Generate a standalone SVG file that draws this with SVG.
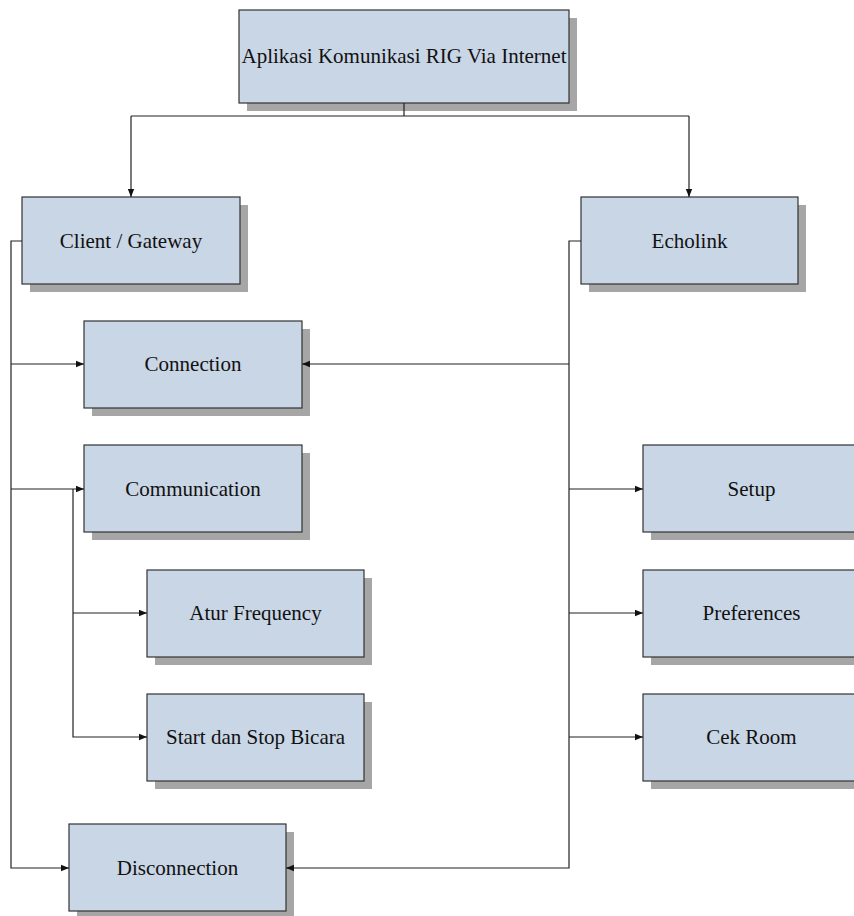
<svg xmlns="http://www.w3.org/2000/svg" width="854" height="916" viewBox="0 0 854 916">
<defs>
<style>
.box{fill:#c9d6e6;stroke:#333;stroke-width:1.2}
.sh{fill:#a6a6a6}
.t{font-family:"Liberation Serif","Times New Roman",serif;font-size:21px;fill:#111;text-anchor:middle}
.c{fill:none;stroke:#222;stroke-width:1.2}
</style>
<marker id="ah" viewBox="0 0 10 10" refX="10" refY="5" markerWidth="8" markerHeight="8" markerUnits="userSpaceOnUse" orient="auto">
<path d="M0,1 L10,5 L0,9 Z" fill="#111"/>
</marker>
</defs>
<rect width="854" height="916" fill="#fff"/>
<g id="root">
<rect class="sh" x="247" y="18" width="330" height="93"/>
<rect class="box" x="239" y="10" width="330" height="93"/>
<text class="t" x="404" y="63">Aplikasi Komunikasi RIG Via Internet</text>
</g>
<g id="client">
<rect class="sh" x="30" y="205" width="218" height="87"/>
<rect class="box" x="22" y="197" width="218" height="87"/>
<text class="t" x="131" y="248">Client / Gateway</text>
</g>
<g id="echolink">
<rect class="sh" x="589" y="205" width="217" height="87"/>
<rect class="box" x="581" y="197" width="217" height="87"/>
<text class="t" x="689.5" y="248">Echolink</text>
</g>
<g id="connection">
<rect class="sh" x="92" y="329" width="218" height="87"/>
<rect class="box" x="84" y="321" width="218" height="87"/>
<text class="t" x="193" y="371">Connection</text>
</g>
<g id="communication">
<rect class="sh" x="92" y="453" width="218" height="87"/>
<rect class="box" x="84" y="445" width="218" height="87"/>
<text class="t" x="193" y="496">Communication</text>
</g>
<g id="atur">
<rect class="sh" x="155" y="578" width="217" height="87"/>
<rect class="box" x="147" y="570" width="217" height="87"/>
<text class="t" x="255.5" y="620">Atur Frequency</text>
</g>
<g id="startstop">
<rect class="sh" x="155" y="702" width="217" height="87"/>
<rect class="box" x="147" y="694" width="217" height="87"/>
<text class="t" x="255.5" y="744">Start dan Stop Bicara</text>
</g>
<g id="disconnection">
<rect class="sh" x="77" y="832" width="217" height="87"/>
<rect class="box" x="69" y="824" width="217" height="87"/>
<text class="t" x="177.5" y="875">Disconnection</text>
</g>
<g id="setup">
<rect class="sh" x="651" y="453" width="217" height="87"/>
<rect class="box" x="643" y="445" width="217" height="87"/>
<text class="t" x="751.5" y="496">Setup</text>
</g>
<g id="preferences">
<rect class="sh" x="651" y="578" width="217" height="87"/>
<rect class="box" x="643" y="570" width="217" height="87"/>
<text class="t" x="751.5" y="620">Preferences</text>
</g>
<g id="cekroom">
<rect class="sh" x="651" y="702" width="217" height="87"/>
<rect class="box" x="643" y="694" width="217" height="87"/>
<text class="t" x="751.5" y="744">Cek Room</text>
</g>
<g id="connectors">
<path class="c" d="M404,103 V116 M131,116 H689"/>
<path class="c" d="M131,116 V197" marker-end="url(#ah)"/>
<path class="c" d="M689,116 V197" marker-end="url(#ah)"/>
<path class="c" d="M22,241 H11 V868 H69" marker-end="url(#ah)"/>
<path class="c" d="M11,364 H84" marker-end="url(#ah)"/>
<path class="c" d="M11,489 H84" marker-end="url(#ah)"/>
<path class="c" d="M73,489 V737 H147" marker-end="url(#ah)"/>
<path class="c" d="M73,613 H147" marker-end="url(#ah)"/>
<path class="c" d="M581,241 H569 V868 H286" marker-end="url(#ah)"/>
<path class="c" d="M569,364 H302" marker-end="url(#ah)"/>
<path class="c" d="M569,489 H643" marker-end="url(#ah)"/>
<path class="c" d="M569,613 H643" marker-end="url(#ah)"/>
<path class="c" d="M569,737 H643" marker-end="url(#ah)"/>
</g>
</svg>
